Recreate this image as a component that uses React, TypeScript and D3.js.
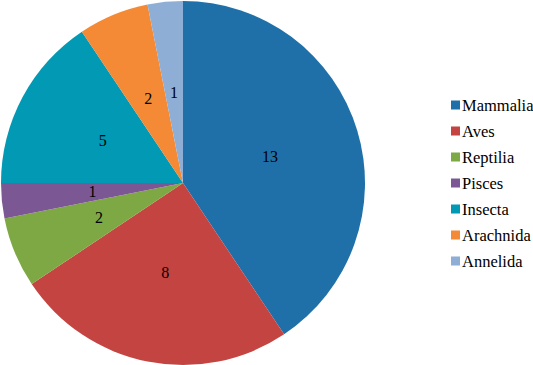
import * as d3 from "d3";

const categories = ["Mammalia", "Aves", "Reptilia", "Pisces", "Insecta", "Arachnida", "Annelida"];
const counts = [13, 8, 2, 1, 5, 2, 1];
const colors = ["#1f70a8", "#c44441", "#7ea844", "#7b5893", "#0199b3", "#f48a35", "#8eaed6"];

const width = 533;
const height = 365;
const cx = 183;
const cy = 183;
const radius = 182;

export default function App() {
  const data = categories.map((name, i) => ({ name, value: counts[i], color: colors[i] }));

  const pie = d3
    .pie<{ name: string; value: number; color: string }>()
    .value((d) => d.value)
    .sort(null);

  const arcs = pie(data);
  const arc = d3.arc<d3.PieArcDatum<any>>().innerRadius(0).outerRadius(radius);
  const labelArc = d3.arc<d3.PieArcDatum<any>>().innerRadius(radius * 0.5).outerRadius(radius * 0.5);

  const legendY = d3.scalePoint<string>().domain(categories).range([105, 261]);

  return (
    <svg width={width} height={height} style={{ position: "absolute", left: 0, top: 0, background: "#fff" }}>
      <g transform={`translate(${cx},${cy})`}>
        {arcs.map((a, i) => (
          <path key={i} d={arc(a) || ""} fill={a.data.color} />
        ))}
        {arcs.map((a, i) => {
          const [lx, ly] = labelArc.centroid(a);
          return (
            <text
              key={"l" + i}
              x={lx}
              y={ly + 5.5}
              fontSize="16"
              textAnchor="middle"
              fill="#000"
              style={{ fontFamily: "Liberation Serif" }}
            >
              {a.data.value}
            </text>
          );
        })}
      </g>

      {data.map((d) => {
        const y = legendY(d.name) ?? 0;
        return (
          <g key={d.name}>
            <rect x={451} y={y - 4.5} width={9} height={9} fill={d.color} />
            <text x={462} y={y + 5.5} fontSize="16.5" fill="#000" style={{ fontFamily: "Liberation Serif" }}>
              {d.name}
            </text>
          </g>
        );
      })}
    </svg>
  );
}
